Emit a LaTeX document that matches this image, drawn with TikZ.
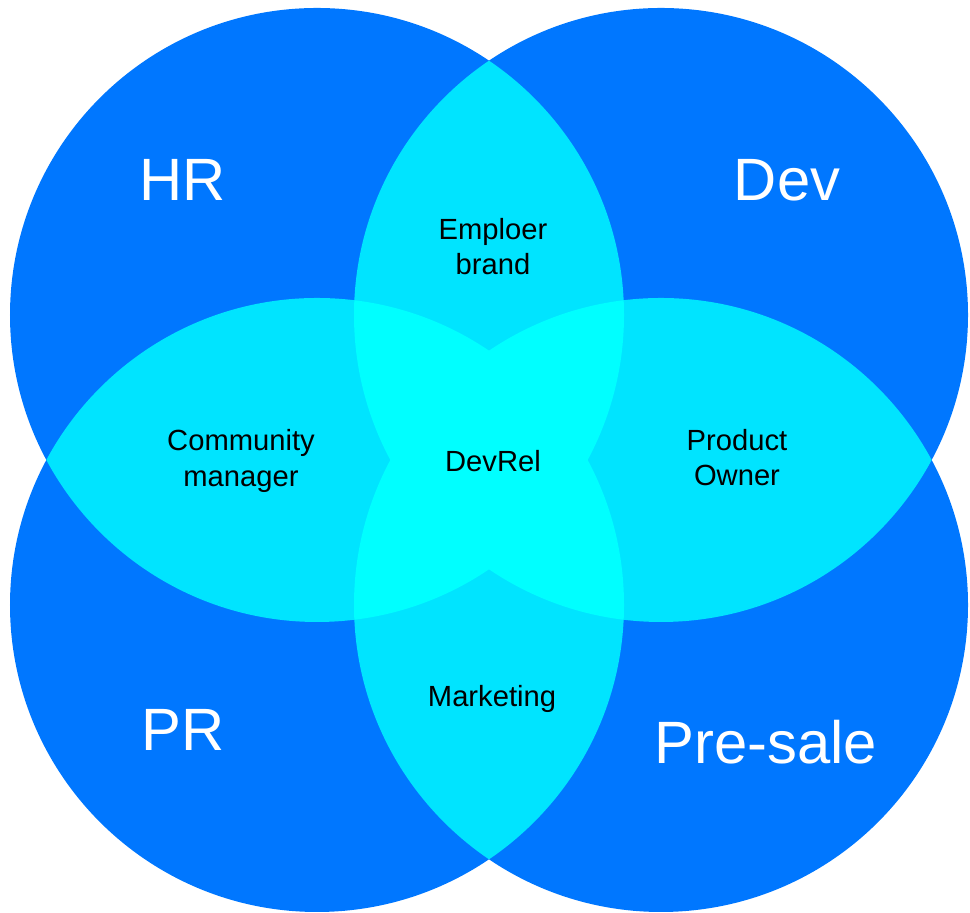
\documentclass[tikz,border=0pt]{standalone}
\usepackage{fontspec}
\setmainfont{Liberation Sans}
\definecolor{setblue}{RGB}{0,119,255}
\definecolor{pairblue}{RGB}{0,228,255}
\definecolor{coreblue}{RGB}{0,255,255}
\begin{document}
\begin{tikzpicture}[
  role/.style={text=white,font=\fontsize{17}{20}\selectfont},
  mix/.style={text=black,align=center,font=\fontsize{8.3}{10}\selectfont}]
  \useasboundingbox (0,0) rectangle (9.70,9.13);
  \def\crad{3.07}
  \coordinate (hr) at (3.17,5.98);
  \coordinate (dev) at (6.61,5.98);
  \coordinate (pr) at (3.17,3.08);
  \coordinate (pre) at (6.61,3.08);

  \fill[setblue] (hr) circle (\crad);
  \fill[setblue] (dev) circle (\crad);
  \fill[setblue] (pr) circle (\crad);
  \fill[setblue] (pre) circle (\crad);

  % two sets
  \begin{scope}
    \clip (hr) circle (\crad);
    \fill[pairblue] (dev) circle (\crad);
    \fill[pairblue] (pr) circle (\crad);
    \fill[pairblue] (pre) circle (\crad);
  \end{scope}
  \begin{scope}
    \clip (dev) circle (\crad);
    \fill[pairblue] (pr) circle (\crad);
    \fill[pairblue] (pre) circle (\crad);
  \end{scope}
  \begin{scope}
    \clip (pr) circle (\crad);
    \fill[pairblue] (pre) circle (\crad);
  \end{scope}

  % three sets and more
  \begin{scope}
    \clip (hr) circle (\crad);
    \clip (dev) circle (\crad);
    \fill[coreblue] (pr) circle (\crad);
    \fill[coreblue] (pre) circle (\crad);
  \end{scope}
  \begin{scope}
    \clip (pr) circle (\crad);
    \clip (pre) circle (\crad);
    \fill[coreblue] (hr) circle (\crad);
    \fill[coreblue] (dev) circle (\crad);
  \end{scope}

  \node[role] (hrl) at (1.83,7.33) {HR};
  \node[role] (devl) at (7.87,7.33) {Dev};
  \node[role] (prl) at (1.83,1.83) {PR};
  \node[role] (prel) at (7.66,1.71) {Pre-sale};

  \node[mix] (brand) at (4.93,6.66) {Emploer\\brand};
  \node[mix] (comm) at (2.41,4.52) {Community\\manager};
  \node[mix] (devrel) at (4.93,4.52) {DevRel};
  \node[mix] (owner) at (7.37,4.55) {Product\\Owner};
  \node[mix] (mkt) at (4.92,2.14) {Marketing};
\end{tikzpicture}
\end{document}
